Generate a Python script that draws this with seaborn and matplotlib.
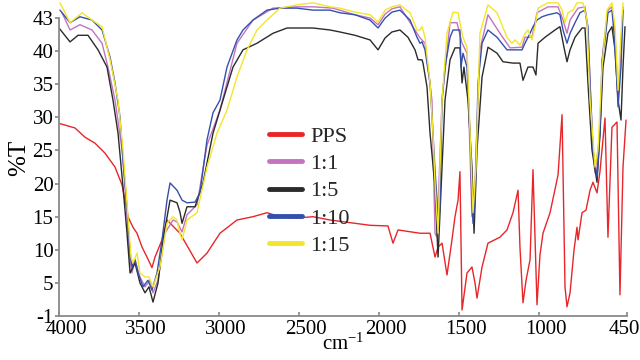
import matplotlib
matplotlib.use("Agg")
import matplotlib.pyplot as plt
import seaborn as sns
from matplotlib.transforms import ScaledTranslation

# ---------------- data (wavenumber cm-1, %T) ----------------
pps_wn = [4000, 3900, 3837.5, 3775, 3712.5, 3650, 3606, 3587.5, 3569, 3537.5, 3512.5, 3481, 3450,
          3419, 3400, 3356, 3325, 3244, 3137.5, 3075, 2994, 2887.5, 2787.5, 2700, 2619, 2512.5,
          2412.5, 2306, 2212.5, 2056, 1944, 1912.5, 1881, 1744, 1681, 1650, 1631, 1606, 1575, 1544,
          1525, 1506, 1494, 1481, 1450, 1419, 1400, 1387.5, 1356, 1319, 1244, 1200, 1162.5, 1131,
          1119, 1100, 1081, 1056, 1037.5, 1012.5, 994, 975, 931, 881, 856, 837.5, 825, 806, 781,
          762.5, 756, 731, 706, 681, 662.5, 637.5, 619, 587.5, 569, 544, 512.5, 494, 475, 456]
pps_t = [29.1, 28.4, 27.0, 26.1, 24.6, 22.5, 19.8, 17.5, 15.0, 13.4, 12.5, 10.4, 8.9,
         7.3, 8.9, 11.5, 14.5, 12.5, 8.0, 9.5, 12.5, 14.5, 15.0, 15.6, 15.0, 14.8,
         15.0, 14.5, 14.2, 13.7, 13.6, 11.0, 13.0, 12.5, 12.5, 8.9, 10.4, 11.0, 6.2, 11.5,
         15.0, 17.5, 21.8, 0.9, 6.5, 7.4, 5.0, 2.7, 7.4, 11.0, 11.9, 13.0, 15.6, 19.0,
         10.4, 2.0, 5.4, 8.5, 22.1, 1.7, 9.2, 12.5, 15.6, 21.3, 30.4, 4.4, 1.4, 3.5, 10.0,
         13.4, 11.5, 15.6, 16.0, 19.0, 20.2, 18.6, 21.8, 29.9, 11.9, 28.5, 29.3, 3.2, 22.5, 29.6]

r11_wn = [3981, 3931, 3869, 3794, 3731, 3694, 3650, 3606, 3581, 3562.5, 3544, 3525, 3494, 3462.5,
          3431, 3412.5, 3381, 3337.5, 3287.5, 3262.5, 3231, 3200, 3137.5, 3075, 2994, 2887.5,
          2787.5, 2662.5, 2512.5, 2412.5, 2287.5, 2150, 2056, 2006, 1962, 1919, 1869, 1762.5,
          1744, 1712.5, 1669, 1650, 1637.5, 1606, 1556, 1512.5, 1481, 1450, 1419, 1400, 1369,
          1319, 1244, 1181, 1106, 1087.5, 1044, 1012.5, 944, 881, 850, 825, 806, 756, 712.5,
          694, 662.5, 650, 619, 600, 569, 544, 525, 506, 487.5, 475]
r11_t = [45.8, 43.2, 44.0, 43.2, 41.2, 37.6, 32.6, 25.1, 17.5, 9.5, 6.5, 8.5, 5.9, 4.4,
         5.4, 3.5, 5.4, 12.5, 14.5, 14.2, 12.7, 15.3, 16.8, 25.8, 31.1, 41.2,
         44.7, 46.5, 46.7, 46.7, 46.5, 45.5, 45.0, 44.0, 45.6, 46.4, 46.7, 42.7,
         42.0, 41.2, 32.6, 12.5, 11.9, 32.6, 44.3, 44.3, 41.2, 39.7, 15.0, 20.1, 40.2,
         45.5, 42.7, 40.5, 40.6, 42.1, 42.1, 45.8, 46.7, 46.7, 44.7, 42.7, 44.7, 46.5, 46.7,
         42.7, 25.1, 21.6, 27.6, 40.2, 46.2, 46.7, 42.7, 32.6, 40.2, 46.7]

r15_wn = [4000, 3931, 3881, 3819, 3756, 3700, 3662.5, 3631, 3600, 3575, 3556, 3525, 3494, 3462.5,
          3437.5, 3412.5, 3381, 3350, 3306, 3262.5, 3244, 3231, 3200, 3150, 3100, 3037.5, 2975,
          2912.5, 2850, 2762.5, 2662.5, 2575, 2412.5, 2306, 2244, 2150, 2056, 2006, 1962, 1919,
          1869, 1819, 1775, 1756, 1731, 1725, 1700, 1681, 1650, 1631, 1606, 1587.5, 1556, 1525,
          1494, 1481, 1469, 1444, 1419, 1406, 1387.5, 1356, 1319, 1262.5, 1225, 1162.5, 1119,
          1100, 1069, 1037.5, 1019, 1006, 962.5, 900, 869, 844, 825, 806, 775, 731, 712.5, 694,
          669, 637.5, 619, 600, 569, 544, 525, 506, 487.5, 475, 462.5]
r15_t = [43.5, 41.4, 42.4, 42.4, 40.2, 37.6, 32.6, 27.6, 19.5, 12.5, 6.5, 8.0, 5.0, 3.5,
         4.4, 2.1, 5.0, 11.5, 17.5, 17.1, 15.7, 14.0, 16.5, 16.5, 20.1, 27.6, 32.6,
         37.6, 40.2, 41.2, 42.7, 43.5, 43.5, 43.2, 42.9, 42.4, 41.7, 40.2, 42.0, 42.9,
         43.2, 42.1, 40.2, 38.7, 38.7, 38.2, 34.6, 27.6, 19.5, 8.9, 22.5, 32.6, 38.7, 40.5,
         40.5, 35.2, 37.6, 32.6, 22.5, 12.5, 25.1, 36.1, 40.6, 39.7, 38.4, 38.2, 38.2,
         35.6, 37.6, 37.6, 36.4, 41.2, 42.1, 43.2, 43.7, 40.6, 38.4, 40.2, 42.1, 43.5, 43.5, 35.2,
         25.1, 20.2, 27.6, 37.6, 42.7, 43.7, 40.2, 32.6, 29.6, 37.6, 43.7]

r110_wn = [3994, 3931, 3869, 3794, 3731, 3681, 3650, 3619, 3600, 3575, 3556, 3544, 3525, 3506,
           3475, 3444, 3419, 3387.5, 3356, 3325, 3306, 3262.5, 3231, 3200, 3150, 3119, 3075,
           3037.5, 2994, 2950, 2887.5, 2850, 2787.5, 2700, 2619, 2512.5, 2412.5, 2306, 2244, 2150,
           2056, 2006, 1962, 1919, 1869, 1806, 1762.5, 1744, 1731, 1712.5, 1681, 1662.5, 1650,
           1637.5, 1631, 1619, 1606, 1587.5, 1556, 1537.5, 1494, 1487.5, 1475, 1450, 1431, 1419,
           1412.5, 1400, 1381, 1356, 1319, 1262.5, 1200, 1150, 1106, 1087.5, 1056, 1037.5, 1012.5,
           981, 944, 887.5, 869, 850, 825, 806, 775, 744, 712.5, 694, 681, 662.5, 637.5, 619, 606,
           587.5, 569, 544, 531, 512.5, 506, 487.5, 475]
r110_t = [46.2, 44.3, 45.2, 44.7, 43.2, 39.1, 35.2, 30.1, 23.6, 16.5, 9.5, 7.4, 8.5, 6.5,
          4.4, 5.4, 3.9, 6.5, 11.5, 17.5, 20.1, 19.0, 17.5, 17.1, 17.2, 18.6, 26.6,
          30.7, 32.6, 37.6, 41.7, 43.2, 44.7, 46.2, 46.5, 46.5, 46.2, 46.2, 45.8, 45.5,
          44.7, 43.5, 45.0, 45.9, 46.2, 44.7, 42.1, 41.2, 41.4, 40.2, 35.2, 27.6, 22.1,
          17.5, 13.0, 16.5, 32.6, 37.6, 42.1, 43.2, 43.2, 37.6, 39.7, 37.6, 27.6, 17.5,
          14.0, 17.5, 35.2, 41.2, 43.2, 42.1, 40.2, 40.2, 40.2, 41.2, 42.7, 43.7, 44.7,
          45.2, 45.5, 45.8, 45.5, 43.2, 41.2, 42.7, 44.3, 45.8, 46.2, 43.7, 35.2, 25.1, 21.0, 27.6, 38.7,
          41.7, 45.8, 46.2, 42.7, 35.2, 31.6, 37.6, 46.2]

r115_wn = [3994, 3931, 3856, 3794, 3731, 3681, 3631, 3600, 3569, 3550, 3537.5, 3512.5, 3494, 3462.5,
           3437.5, 3412.5, 3369, 3325, 3287.5, 3262.5, 3244, 3231, 3200, 3137.5, 3075, 3012.5,
           2950, 2887.5, 2825, 2762.5, 2700, 2619, 2512.5, 2412.5, 2306, 2244, 2150, 2056, 2006,
           1962, 1919, 1869, 1806, 1762.5, 1744, 1731, 1712.5, 1681, 1662.5, 1650, 1637.5, 1631,
           1606, 1575, 1537.5, 1506, 1481, 1475, 1450, 1431, 1412.5, 1394, 1369, 1319, 1262.5,
           1200, 1169, 1150, 1119, 1087.5, 1069, 1044, 1025, 1006, 944, 881, 856, 837.5, 819,
           787.5, 762.5, 725, 700, 681, 650, 631, 606, 575, 544, 525, 506, 487.5, 475]
r115_t = [47.3, 44.3, 45.8, 44.7, 43.7, 38.7, 32.6, 25.1, 15.0, 8.9, 8.0, 9.5, 6.5, 5.9,
          5.9, 4.4, 7.4, 14.0, 15.0, 14.5, 12.5, 11.5, 14.5, 15.6, 22.5, 27.6,
          31.1, 36.1, 40.2, 43.2, 44.7, 46.5, 47.0, 47.3, 46.7, 46.5, 45.9, 45.5, 44.4,
          46.2, 46.7, 47.0, 45.8, 43.2, 43.2, 43.7, 42.1, 35.2, 27.6, 20.1, 15.0, 12.5,
          32.6, 42.7, 45.9, 45.8, 42.7, 42.1, 40.6, 27.6, 15.6, 22.5, 42.7, 47.0, 45.8,
          42.1, 41.2, 41.7, 40.9, 42.7, 43.2, 41.7, 43.7, 46.5, 47.3, 47.3, 46.2, 44.3, 45.8,
          46.2, 47.3, 47.3, 44.7, 32.6, 22.5, 25.1, 37.6, 46.2, 47.3, 43.7, 34.1, 42.7, 47.3]

series_names = ["PPS", "1:1", "1:5", "1:10", "1:15"]
series_colors = ["#e8262a", "#c274c2", "#2b2b2b", "#3450ad", "#f2e62a"]

x_ticks = [4000, 3500, 3000, 2500, 2000, 1500, 1000, 450]
x_labels = ["4000", "3500", "3000", "2500", "2000", "1500", "1000", "450"]
y_ticks = [0, 5, 10, 15, 20, 25, 30, 35, 40, 45]
y_labels = ["-1", "5", "10", "15", "20", "25", "30", "35", "40", "43"]

# ---------------- plot ----------------
sns.set_theme(style="white")
plt.rcParams["font.family"] = ["Liberation Serif", "DejaVu Serif"]
plt.rcParams["mathtext.default"] = "regular"

fig = plt.figure(figsize=(6.4, 3.6), dpi=100)
ax = fig.add_axes([59 / 640, 44 / 360, 568 / 640, 316 / 360])

data = [(pps_wn, pps_t), (r11_wn, r11_t), (r15_wn, r15_t), (r110_wn, r110_t), (r115_wn, r115_t)]
for (wn, t), name, col in zip(data, series_names, series_colors):
    sns.lineplot(x=wn, y=t, ax=ax, color=col, linewidth=1.0, label=name,
                 sort=False, estimator=None)

ax.set_xlim(4000, 450)
ax.set_ylim(0, 47.73)
ax.set_xticks(x_ticks)
ax.set_xticklabels(x_labels)
ax.set_yticks(y_ticks)
ax.set_yticklabels(y_labels)

gray = "#8a8a8a"
for s in ["top", "right"]:
    ax.spines[s].set_visible(False)
for s in ["left", "bottom"]:
    ax.spines[s].set_color(gray)
    ax.spines[s].set_linewidth(1.3)
ax.spines["left"].set_bounds(0, 45)

ax.tick_params(axis="x", bottom=True, direction="in", length=3, color=gray,
               labelsize=15, pad=3, labelcolor="black")
ax.tick_params(axis="y", left=True, direction="out", length=3, color=gray,
               labelsize=15, pad=1, labelcolor="black")

for i, lab in enumerate(ax.get_xticklabels()):
    dx = 7 if i < len(x_ticks) - 1 else -3
    lab.set_transform(lab.get_transform() + ScaledTranslation(dx / 100, 0, fig.dpi_scale_trans))

ax.set_xlabel("cm$^{-1}$", fontsize=15, labelpad=-4, color="black")
ax.set_ylabel("%T", fontsize=18, labelpad=2, color="black")

leg = ax.legend(loc="upper left", bbox_to_anchor=(0.37, 0.60), frameon=False,
                fontsize=16, handlelength=1.5, handletextpad=0.35, labelspacing=0.3,
                borderpad=0, borderaxespad=0)
for h in leg.get_lines():
    h.set_linewidth(3.5)

fig.savefig("out.png", dpi=100, facecolor="white")
